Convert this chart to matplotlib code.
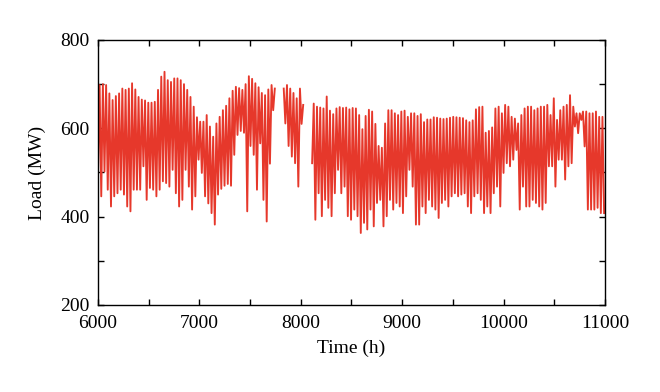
import numpy as np
import matplotlib
matplotlib.use("Agg")
from matplotlib import pyplot as plt
from matplotlib.ticker import MultipleLocator

step = 16

# segment 1: 6000 h .. ~7750 h
seg1_start = 6000
seg1_load = [
    500, 698, 446, 700, 502, 698, 461, 679, 423, 664, 446, 673, 453, 679, 461,
    690, 450, 687, 423, 690, 412, 702, 461, 688, 461, 671, 461, 665, 514, 663,
    438, 658, 465, 658, 461, 660, 446, 687, 461, 717, 480, 728, 476, 709, 468,
    705, 506, 713, 453, 713, 423, 709, 438, 700, 506, 687, 468, 671, 416, 649,
    446, 625, 529,
    615, 499, 615, 446, 630, 430, 604, 408, 581, 382, 611, 450, 626, 463, 641,
    470, 651, 474, 668, 470, 685, 540, 694, 585, 691, 594, 687, 590, 700, 412,
    718, 560, 712, 540, 702, 461, 693, 566, 680, 438, 675, 389, 688, 520, 698,
    641, 690,
]

# segment 2: ~7830 h .. ~8030 h
seg2_start = 7832
seg2_load = [690, 611, 698, 560, 690, 536, 680, 521, 668, 468, 690, 610, 653]

# segment 3: ~8110 h .. 11000 h
seg3_start = 8112
seg3_first = 521
seg3_peaks = [
    656, 649, 647, 645, 672, 640, 632, 645, 648, 646, 647, 643, 646, 645, 630,
    598, 628, 642, 638, 610, 560, 556, 611, 641, 641, 634, 630, 638, 640, 626,
    634, 634, 628, 632, 614, 620, 620, 625, 624, 622, 621, 622, 624, 626, 625,
    624, 623, 618, 614, 618, 643, 648, 649, 590, 594, 602, 645, 649, 634, 653,
    649, 626, 622, 611, 630, 645, 649, 649, 641, 645, 649, 649, 653, 630, 668,
    619, 641, 649, 653, 675, 649, 634, 634, 638, 638, 634, 634, 638, 626, 626,
]
seg3_troughs = [
    393, 453, 401, 438, 420, 401, 453, 506, 453, 468, 401, 393, 416, 401, 363,
    386, 371, 416, 378, 431, 438, 378, 401, 438, 416, 431, 423, 408, 446, 506,
    468, 382, 382, 423, 408, 438, 423, 416, 397, 431, 438, 423, 446, 453, 446,
    450, 453, 423, 408, 446, 453, 438, 408, 423, 408, 453, 468, 423, 499, 521,
    514, 529, 551, 416, 468, 423, 423, 438, 431, 423, 416, 431, 514, 514, 468,
    529, 529, 484, 514, 521, 604, 589, 619, 559, 416, 416, 416, 420, 408, 408,
]

seg3_load = [seg3_first]
for p, q in zip(seg3_peaks, seg3_troughs):
    seg3_load += [p, q]


def segment(start, values):
    t = start + step * np.arange(len(values))
    return list(t), list(values)


t1, y1 = segment(seg1_start, seg1_load)
t2, y2 = segment(seg2_start, seg2_load)
t3, y3 = segment(seg3_start, seg3_load)

# nan between pieces so the gaps stay empty
time = t1 + [np.nan] + t2 + [np.nan] + t3
load = y1 + [np.nan] + y2 + [np.nan] + y3

plt.rcParams['font.family'] = ['Liberation Serif', 'DejaVu Serif']

fig = plt.figure(figsize=(6.6, 3.92), dpi=100)
ax = fig.add_axes([0.1485, 0.222, 0.768, 0.676])
ax.plot(time, load, color='#e6382b', linewidth=1.35)

ax.set_xlim(6000, 11000)
ax.set_ylim(200, 800)
ax.xaxis.set_major_locator(MultipleLocator(1000))
ax.xaxis.set_minor_locator(MultipleLocator(500))
ax.yaxis.set_major_locator(MultipleLocator(200))
ax.yaxis.set_minor_locator(MultipleLocator(100))
ax.tick_params(which='both', direction='in', top=True, right=True,
               labelsize=14, width=1, length=4)
ax.tick_params(axis='x', pad=7)
ax.tick_params(axis='y', pad=6)
for s in ax.spines.values():
    s.set_linewidth(1)

ax.set_xlabel('Time (h)', fontsize=14, labelpad=6)
ax.set_ylabel('Load (MW)', fontsize=14, labelpad=10)

fig.savefig('out.png', dpi=100)
